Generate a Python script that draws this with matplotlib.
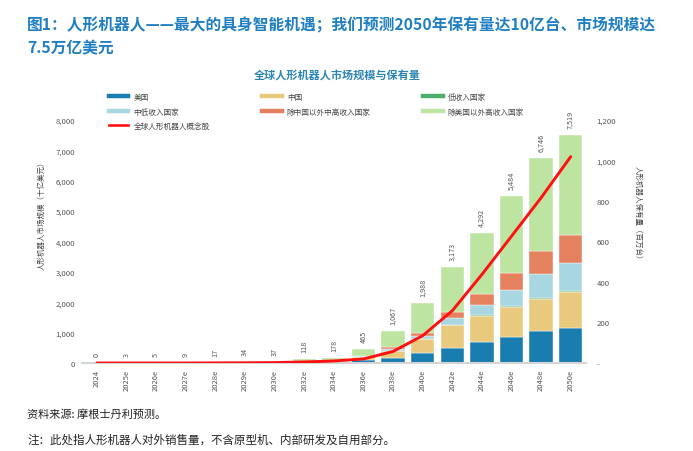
import matplotlib
matplotlib.use('Agg')
import matplotlib.pyplot as plt
from matplotlib.lines import Line2D
import numpy as np

plt.rcParams['font.family'] = ['Noto Sans CJK SC', 'DejaVu Sans']

# 数据
years = ['2024', '2025e', '2026e', '2027e', '2028e', '2029e', '2030e', '2032e', '2034e',
         '2036e', '2038e', '2040e', '2042e', '2044e', '2046e', '2048e', '2050e']
totals = [0, 3, 5, 9, 17, 34, 37, 118, 178, 465, 1067, 1988, 3173, 4292, 5484, 6746, 7519]

us = [0, 0.4, 0.7, 1.2, 2.3, 4.6, 5, 15, 25, 90, 164, 318, 493, 679, 866, 1041, 1151]
china = [0, 0.5, 0.8, 1.5, 2.8, 5.6, 6, 20, 30, 120, 220, 471, 745, 855, 975, 1063, 1173]
low_inc = [0, 0, 0, 0.1, 0.2, 0.3, 0.3, 1, 1, 3, 5, 11, 22, 44, 33, 44, 54]
mid_low = [0, 0.1, 0.2, 0.3, 0.6, 1.2, 1.3, 4, 6, 15, 71, 99, 209, 340, 537, 779, 910]
upper_mid = [0, 0.1, 0.2, 0.3, 0.6, 1.2, 1.3, 4, 6, 12, 55, 98, 208, 340, 559, 766, 910]
high_inc = [0, 1.9, 3.1, 5.6, 10.5, 21.1, 23.1, 74, 110, 225, 552, 991, 1496, 2034, 2514, 3053, 3321]

# 保有量（百万台）
stock = [0, 0, 0, 0, 0.5, 1, 2, 5, 10, 20, 57, 135, 258, 437, 626, 816, 1019]

series = [
    ('美国', us, '#1a7db0'),
    ('中国', china, '#e9c97e'),
    ('低收入国家', low_inc, '#4daf6b'),
    ('中低收入国家', mid_low, '#a8d7e1'),
    ('除中国以外中高收入国家', upper_mid, '#e4815f'),
    ('除美国以外高收入国家', high_inc, '#bde4a1'),
]
line_name = '全球人形机器人概念股'

fig = plt.figure(figsize=(6.93, 4.52), dpi=100)
ax = fig.add_axes([0.1186, 0.1947, 0.7263, 0.5376])
x = np.arange(len(years))

bottom = np.zeros(len(years))
conts = []
for name, vals, col in series:
    c = ax.bar(x, vals, 0.79, bottom=bottom, color=col, edgecolor='white', linewidth=0.3, label=name)
    bottom += np.array(vals)
    conts.append(c)

ax.bar_label(conts[-1], labels=[f'{v:,}' for v in totals], rotation=90, padding=5,
             fontsize=5.2, color='#555555')

ax.set_xlim(-0.5, len(years) - 0.5)
ax.set_ylim(0, 8000)
ax.set_yticks(range(0, 8001, 1000))
ax.set_yticklabels([f'{v:,}' for v in range(0, 8001, 1000)])
ax.set_xticks(x)
ax.set_xticklabels(years, rotation=90)
ax.tick_params(axis='y', length=0, pad=5, labelsize=5.6, labelcolor='#555555')
ax.tick_params(axis='x', length=0, pad=4, labelsize=5.5, labelcolor='#555555')
for s in ['top', 'right', 'left']:
    ax.spines[s].set_visible(False)
ax.spines['bottom'].set_color('#d5d5d5')
ax.spines['bottom'].set_linewidth(1.5)

ax2 = ax.twinx()
ax2.plot(x, stock, color='#ff1010', lw=2.1, solid_capstyle='round')
ax2.set_ylim(0, 1200)
ax2.set_yticks(range(0, 1201, 200))
ax2.set_yticklabels(['-'] + [f'{v:,}' for v in range(200, 1201, 200)])
ax2.tick_params(axis='y', length=0, pad=8, labelsize=5.6, labelcolor='#555555')
for s in ['top', 'right', 'left', 'bottom']:
    ax2.spines[s].set_visible(False)

# 坐标轴标题
fig.text(42 / 693, 1 - 214 / 452, '人形机器人市场规模（十亿美元）', rotation=90,
         ha='center', va='center', fontsize=5.4, color='#444444')
fig.text(638 / 693, 1 - 215 / 452, '人形机器人保有量（百万台）', rotation=270,
         ha='center', va='center', fontsize=5.4, color='#444444')

# 图例
h = {name: Line2D([], [], color=col, lw=3.2) for name, _, col in series}
h[line_name] = Line2D([], [], color='#ff1010', lw=1.9)
order = ['美国', '中低收入国家', line_name, '中国', '除中国以外中高收入国家',
         '低收入国家', '除美国以外高收入国家']
fig.legend([h[k] for k in order], order, ncol=3, loc='upper left',
           bbox_to_anchor=(109 / 693, 1 - 94 / 452), frameon=False, fontsize=5.5,
           handlelength=2.5, handletextpad=0.7, columnspacing=6.9, labelspacing=0.85,
           borderpad=0, borderaxespad=0, labelcolor='#444444')

# 标题
tcol = '#1f7fc2'
fig.text(27 / 693, 1 - 25 / 452,
         '图1：人形机器人——最大的具身智能机遇；我们预测2050年保有量达10亿台、市场规模达',
         fontsize=11.3, fontweight='bold', color=tcol, va='center')
fig.text(27 / 693, 1 - 48 / 452, '7.5万亿美元', fontsize=11.3, fontweight='bold',
         color=tcol, va='center')
fig.text(337 / 693, 1 - 76 / 452, '全球人形机器人市场规模与保有量', fontsize=8,
         fontweight='bold', color='#2a85b5', ha='center', va='center')

fig.text(27 / 693, 1 - 415 / 452, '资料来源: 摩根士丹利预测。', fontsize=8,
         color='#222222', va='center')
fig.text(27 / 693, 1 - 440 / 452, '注：此处指人形机器人对外销售量，不含原型机、内部研发及自用部分。',
         fontsize=8.3, color='#222222', va='center')

fig.savefig('out.png', dpi=100)
